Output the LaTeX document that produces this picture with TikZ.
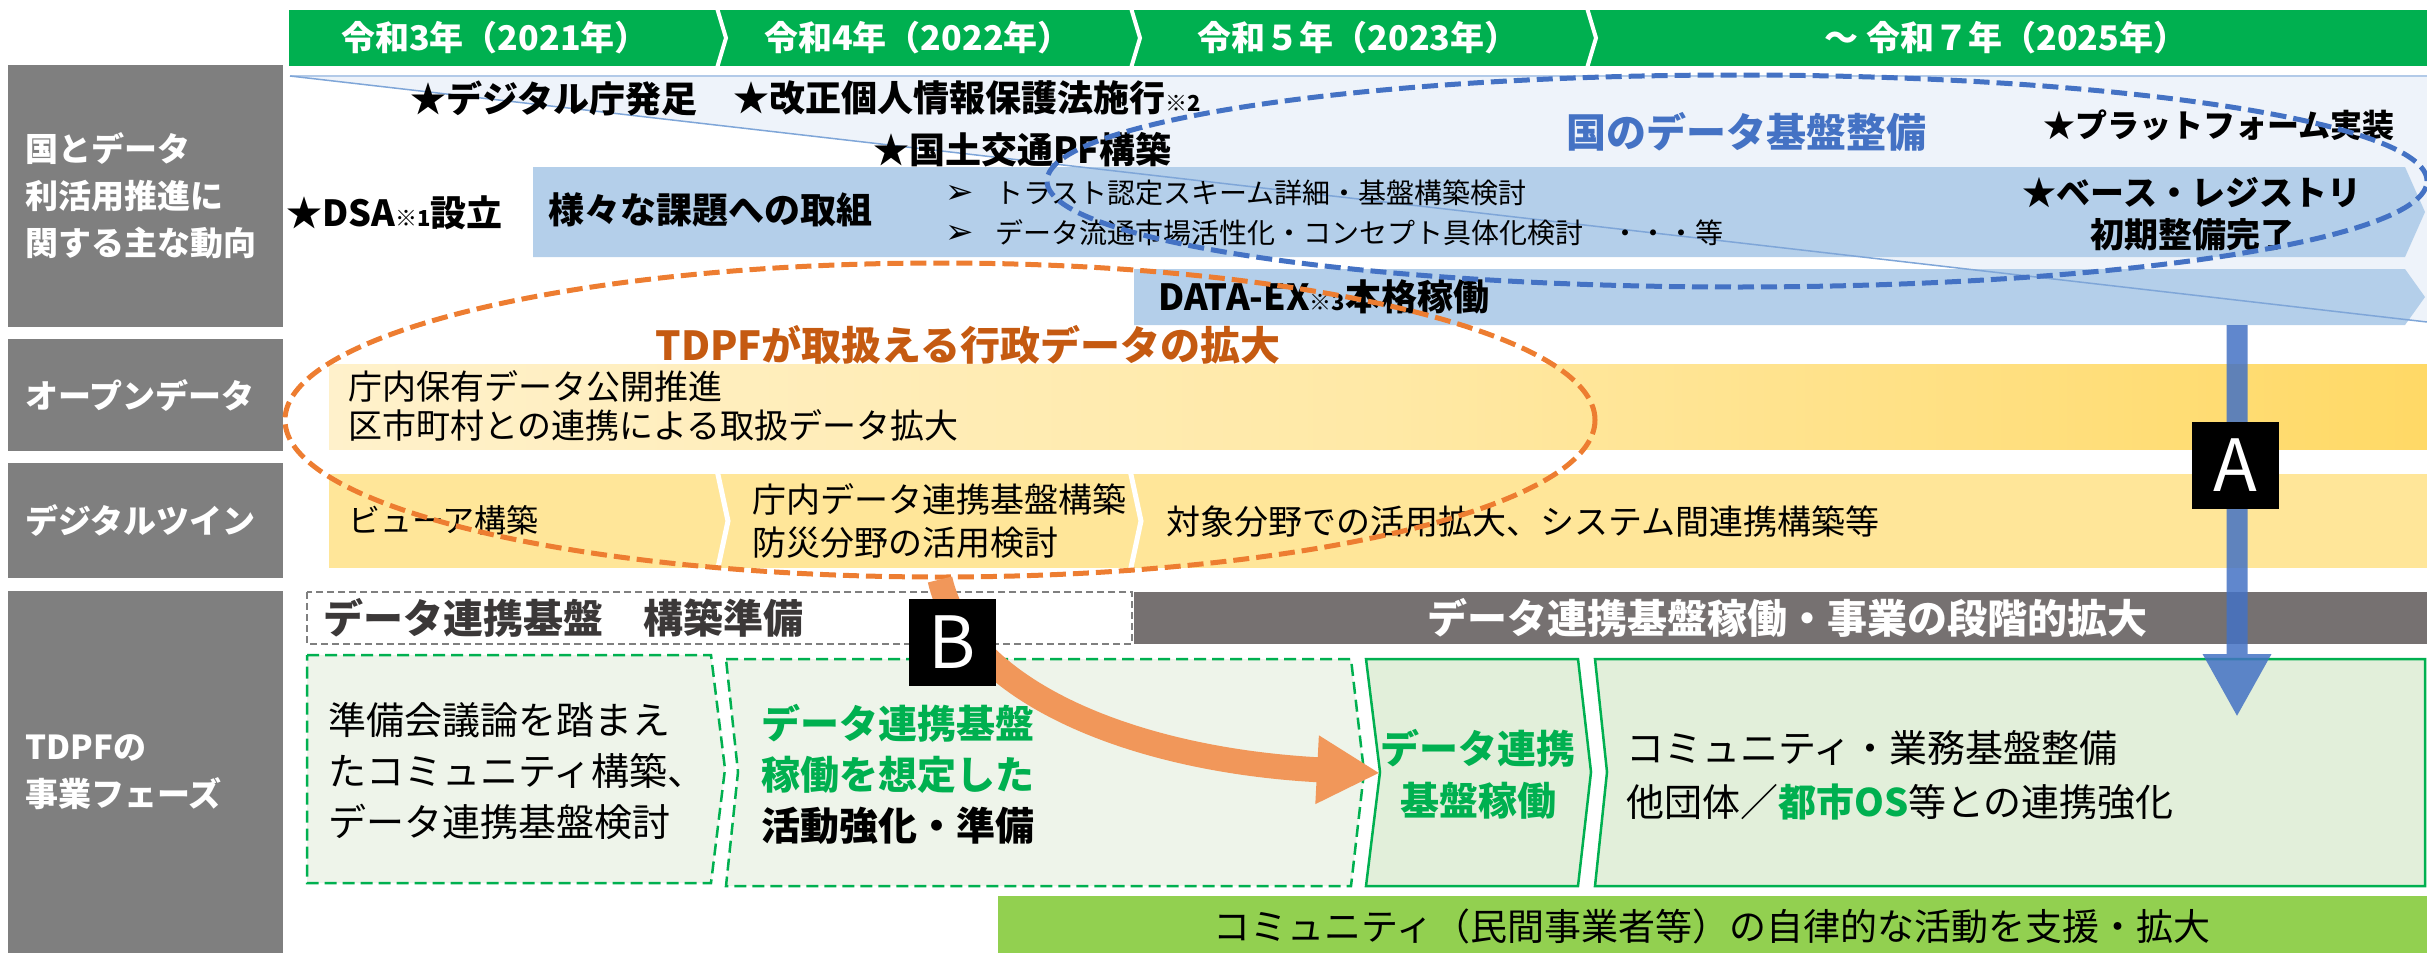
\documentclass[tikz,border=0pt]{standalone}
\usepackage{fontspec}
\setmainfont{Noto Sans CJK JP}
\newfontfamily\symfont{DejaVu Sans}
\usetikzlibrary{arrows.meta, positioning, calc, shapes.geometric}

\definecolor{hdrgreen}{HTML}{00B050}
\definecolor{lblgray}{HTML}{7F7F7F}
\definecolor{bargray}{HTML}{767171}
\definecolor{barblue}{HTML}{B4CFEA}
\definecolor{paleblue}{HTML}{EEF3FA}
\definecolor{lineblue}{HTML}{7FA6D8}
\definecolor{darkblue}{HTML}{4472C4}
\definecolor{twinyellow}{HTML}{FFE699}
\definecolor{paleyellow}{HTML}{FFF1CB}
\definecolor{midyellow}{HTML}{FFE9A6}
\definecolor{deepyellow}{HTML}{FFD966}
\definecolor{tdpforange}{HTML}{ED7D31}
\definecolor{titleorange}{HTML}{C55A11}
\definecolor{phasefill}{HTML}{EEF4EA}
\definecolor{phasefilltwo}{HTML}{E2EFDA}
\definecolor{communitygreen}{HTML}{92D050}
\definecolor{textgray}{HTML}{3B3838}

\begin{document}
\begin{tikzpicture}[x=1pt, y=-1pt,
  rowlabel/.style = {fill=lblgray, text=white, font=\bfseries\fontsize{33}{47}\selectfont, align=left, text width=240pt, minimum width=275pt, inner sep=0pt},
  yeartext/.style = {text=white, font=\bfseries\fontsize{34}{40}\selectfont},
  event/.style = {anchor=west, inner sep=0pt, font=\bfseries\fontsize{36}{42}\selectfont},
  bullet/.style = {anchor=west, inner sep=0pt, font=\fontsize{28}{34}\selectfont},
  plain/.style = {anchor=west, inner sep=0pt, align=left, font=\fontsize{34}{39}\selectfont},
  phasetext/.style = {anchor=west, inner sep=0pt, align=left, font=\fontsize{38}{51}\selectfont},
  ring/.style = {draw, ellipse, line width=5pt, dash pattern=on 16pt off 7pt, inner sep=0pt},
  tag/.style = {fill=black, text=white, minimum width=87pt, minimum height=87pt, inner sep=0pt, font=\fontsize{72}{72}\selectfont},
  bigarrow/.style = {line width=25pt, -{Triangle[width=64pt, length=63pt]}}
]
  \useasboundingbox (0,0) rectangle (2427,953);

  % Years
  \fill[hdrgreen] (289,10) rectangle (2427,66);
  \foreach \x in {717,1131,1587}
    \draw[white, line width=4pt] (\x,8) -- (\x+9,38) -- (\x,68);
  \node[yeartext] (y2021) at (495,38) {令和3年（2021年）};
  \node[yeartext] (y2022) at (918,38) {令和4年（2022年）};
  \node[yeartext] (y2023) at (1358,38) {令和５年（2023年）};
  \node[yeartext] (y2025) at (2006,38) {～ 令和７年（2025年）};

  % Row labels
  \node[rowlabel, minimum height=262pt] (lblgov) at (145.5,196) {国とデータ\\利活用推進に\\関する主な動向};
  \node[rowlabel, minimum height=112pt] (lblopen) at (145.5,395) {オープンデータ};
  \node[rowlabel, minimum height=115pt] (lbltwin) at (145.5,520.5) {デジタルツイン};
  \node[rowlabel, minimum height=362pt] (lblphase) at (145.5,772) {TDPFの\\事業フェーズ};

  % Row 1: national trends
  \fill[paleblue] (290,76) -- (2427,76) -- (2427,322) -- cycle;
  \draw[lineblue!60, line width=1.5pt] (290,76) -- (2427,76);
  \fill[barblue] (533,167) -- (2405,167) -- (2425,212) -- (2405,257) -- (533,257) -- cycle;
  \fill[barblue] (1134,269) -- (2405,269) -- (2425,297) -- (2405,325) -- (1134,325) -- cycle;
  \draw[lineblue, line width=1.5pt] (290,76) -- (2427,322);

  \node[event] (digital) at (410,98) {★デジタル庁発足};
  \node[event] (privacy) at (733,98) {★改正個人情報保護法施行{\fontsize{22}{22}\selectfont ※2}};
  \node[event] (mlit) at (873,150) {★国土交通PF構築};
  \node[event] (dsa) at (286,213) {★DSA{\fontsize{22}{22}\selectfont ※1}設立};
  \node[event] (issues) at (548,210) {様々な課題への取組};
  \node[bullet] (trust) at (945,193) {{\symfont\fontsize{34}{34}\selectfont ➢}\hspace{22pt}トラスト認定スキーム詳細・基盤構築検討};
  \node[bullet] (market) at (945,233) {{\symfont\fontsize{34}{34}\selectfont ➢}\hspace{22pt}データ流通市場活性化・コンセプト具体化検討　・・・等};
  \node[text=darkblue, font=\bfseries\fontsize{40}{40}\selectfont] (govbase) at (1746,132) {国のデータ基盤整備};
  \node[event, font=\bfseries\fontsize{32}{40}\selectfont] (platform) at (2043,125) {★プラットフォーム実装};
  \node[align=center, inner sep=0pt, font=\bfseries\fontsize{34}{42}\selectfont] (registry) at (2192,214) {★ベース・レジストリ\\初期整備完了};
  \node[event] (dataex) at (1158,297) {DATA-EX{\fontsize{22}{22}\selectfont ※3}本格稼働};

  % Row 2: open data
  \shade[left color=paleyellow, right color=deepyellow, middle color=midyellow] (329,364) rectangle (2427,449);
  \node[plain] (opentext) at (348,406) {庁内保有データ公開推進\\区市町村との連携による取扱データ拡大};
  \node[text=titleorange, font=\bfseries\fontsize{40}{40}\selectfont] (tdpftitle) at (968,345) {TDPFが取扱える行政データの拡大};

  % Row 3: digital twin
  \fill[twinyellow] (329,474) rectangle (2427,568);
  \draw[white, line width=5pt] (717,470) -- (728,521) -- (717,572);
  \draw[white, line width=5pt] (1130,470) -- (1141,521) -- (1130,572);
  \node[plain, font=\fontsize{32}{39}\selectfont] (viewer) at (348,520) {ビューア構築};
  \node[plain, font=\fontsize{34}{43}\selectfont] (twinbase) at (752,521) {庁内データ連携基盤構築\\防災分野の活用検討};
  \node[plain] (twinexpand) at (1166,522) {対象分野での活用拡大、システム間連携構築等};

  % Row 4: TDPF phases
  \draw[lblgray, line width=2pt, dash pattern=on 7pt off 4pt, fill=white] (307,592) rectangle (1132,644);
  \node[anchor=west, inner sep=0pt, text=textgray, font=\bfseries\fontsize{40}{40}\selectfont] (prep) at (323,618) {データ連携基盤　構築準備};
  \fill[bargray] (1134,592) rectangle (2427,644);
  \node[text=white, font=\bfseries\fontsize{40}{40}\selectfont] (running) at (1787,618) {データ連携基盤稼働・事業の段階的拡大};

  \draw[hdrgreen, line width=2.5pt, dash pattern=on 12pt off 6pt, fill=phasefill]
    (307,655) -- (711,655) -- (725,769) -- (711,883) -- (307,883) -- cycle;
  \draw[hdrgreen, line width=2.5pt, dash pattern=on 12pt off 6pt, fill=phasefill]
    (726,659) -- (1351,659) -- (1364,772) -- (1351,886) -- (726,886) -- (738,772) -- cycle;
  \draw[hdrgreen, line width=2.5pt, fill=phasefilltwo]
    (1366,659) -- (1578,659) -- (1591,772) -- (1578,886) -- (1366,886) -- (1380,772) -- cycle;
  \draw[hdrgreen, line width=2.5pt, fill=phasefilltwo]
    (1595,659) -- (2425,659) -- (2425,886) -- (1595,886) -- (1607,772) -- cycle;

  \node[phasetext] (phase1) at (328,771) {準備会議論を踏まえ\\たコミュニティ構築、\\データ連携基盤検討};
  \node[phasetext, font=\bfseries\fontsize{39}{51}\selectfont] (phase2) at (761,774) {\textcolor{hdrgreen}{データ連携基盤}\\\textcolor{hdrgreen}{稼働を想定した}\\活動強化・準備};
  \node[align=center, inner sep=0pt, text=hdrgreen, font=\bfseries\fontsize{39}{52}\selectfont] (phase3) at (1478,774) {データ連携\\基盤稼働};
  \node[phasetext, font=\fontsize{38}{54}\selectfont] (phase4) at (1626,775) {コミュニティ・業務基盤整備\\他団体／\textcolor{hdrgreen}{\bfseries 都市OS}等との連携強化};

  \fill[communitygreen] (998,896) rectangle (2427,953);
  \node[font=\fontsize{37}{40}\selectfont] (community) at (1712,926) {コミュニティ（民間事業者等）の自律的な活動を支援・拡大};

  % Rings
  \node[ring, darkblue, minimum width=1380pt, minimum height=212pt] (govring) at (1737,181) {};
  \node[ring, tdpforange, minimum width=1310pt, minimum height=314pt] (tdpfring) at (940,420) {};

  % Arrows A and B
  \coordinate (aStart) at (2237,325);
  \coordinate (aEnd) at (2237,717);
  \begin{scope}[transparency group, opacity=0.85]
    \draw[bigarrow, darkblue, line width=21pt] (aStart) -- (aEnd);
  \end{scope}
  \node[tag] (tagA) at (2235,465) {A};
  \coordinate (phase3in) at (1380,773);
  \draw[bigarrow, tdpforange!80!white] (tdpfring.south) .. controls (965,690) and (1130,760) .. (phase3in);
  \node[tag] (tagB) at (952,642) {B};

\end{tikzpicture}
\end{document}
